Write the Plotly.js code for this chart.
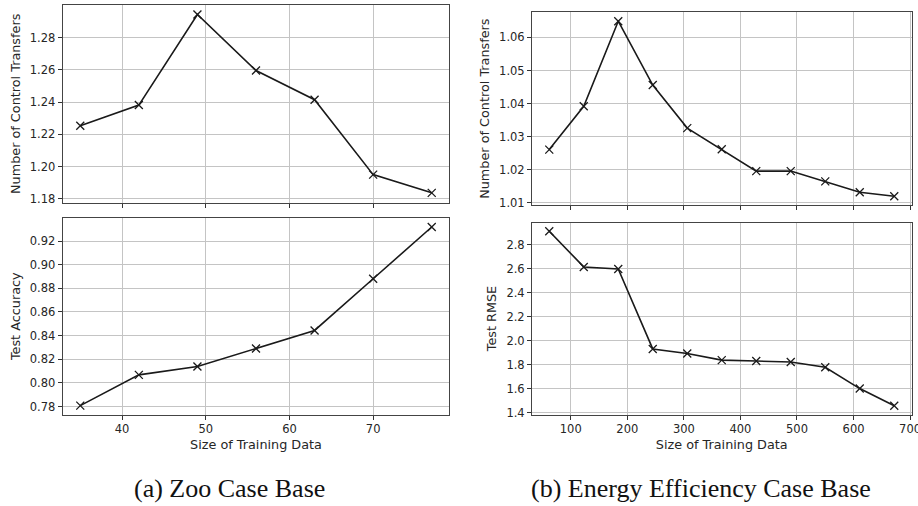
<!DOCTYPE html>
<html>
<head>
<meta charset="utf-8">
<script src="https://cdn.plot.ly/plotly-3.0.1.min.js"></script>
<style>html,body{margin:0;padding:0;background:#fff;}#chart{width:918px;height:506px;}</style>
</head>
<body>
<div id="chart"></div>
<script>
// Zoo case base
const zooSize = [35, 42, 49, 56, 63, 70, 77];
const zooTransfers = [1.2254, 1.2382, 1.2943, 1.2596, 1.2415, 1.1951, 1.1838];
const zooAccuracy = [0.7808, 0.8068, 0.8139, 0.8291, 0.8444, 0.8881, 0.9319];

// Energy efficiency case base
const energySize = [62, 123, 184, 245, 306, 367, 428, 489, 550, 611, 672];
const energyTransfers = [1.0261, 1.0392, 1.0649, 1.0456, 1.0326, 1.0262, 1.0196, 1.0196, 1.0165, 1.0132, 1.0120];
const energyRMSE = [2.910, 2.613, 2.596, 1.930, 1.892, 1.837, 1.829, 1.821, 1.777, 1.600, 1.457];

const zooXTicks = [40, 50, 60, 70];
const energyXTicks = [100, 200, 300, 400, 500, 600, 700];
const zooTransTicks = [1.18, 1.20, 1.22, 1.24, 1.26, 1.28];
const zooAccTicks = [0.78, 0.80, 0.82, 0.84, 0.86, 0.88, 0.90, 0.92];
const energyTransTicks = [1.01, 1.02, 1.03, 1.04, 1.05, 1.06];
const energyRMSETicks = [1.4, 1.6, 1.8, 2.0, 2.2, 2.4, 2.6, 2.8];

const xTitle = 'Size of Training Data';
const captions = ['(a) Zoo Case Base', '(b) Energy Efficiency Case Base'];

function series(x, y, xa, ya) {
  return {
    x: x, y: y, xaxis: xa, yaxis: ya, type: 'scatter', mode: 'lines+markers',
    line: {color: '#1a1a1a', width: 1.6},
    marker: {symbol: 'x-thin', size: 8, color: '#1a1a1a', line: {color: '#1a1a1a', width: 1.3}},
    hoverinfo: 'none', showlegend: false
  };
}

const data = [
  series(zooSize, zooTransfers, 'x', 'y'),
  series(zooSize, zooAccuracy, 'x2', 'y2'),
  series(energySize, energyTransfers, 'x3', 'y3'),
  series(energySize, energyRMSE, 'x4', 'y4')
];

const tickFont = {family: 'DejaVu Sans', size: 11.5, color: '#262626'};
const titleFont = {family: 'DejaVu Sans', size: 12.8, color: '#262626'};

function xax(domain, anchor, tv, range, labels, title) {
  return {
    domain: domain, anchor: anchor, range: range, tickvals: tv,
    showticklabels: labels, ticks: 'outside', ticklen: 4, tickwidth: 1, tickcolor: '#333',
    showline: true, mirror: true, linecolor: '#444', linewidth: 1,
    showgrid: true, gridcolor: '#c4c4c4', gridwidth: 1, zeroline: false,
    tickfont: tickFont, automargin: false, ticklabeloverflow: 'allow',
    title: title ? {text: title, font: titleFont, standoff: 4} : {text: ''}
  };
}
function yax(domain, anchor, tv, range, fmt, title, standoff) {
  return {
    domain: domain, anchor: anchor, range: range, tickvals: tv, tickformat: fmt,
    ticks: 'outside', ticklen: 4, tickwidth: 1, tickcolor: '#333',
    showline: true, mirror: true, linecolor: '#444', linewidth: 1,
    showgrid: true, gridcolor: '#c4c4c4', gridwidth: 1, zeroline: false,
    tickfont: tickFont, automargin: false, ticklabeloverflow: 'allow',
    title: {text: title, font: titleFont, standoff: standoff}
  };
}

const W = 918, H = 506;
const px = (a, b) => [a / W, b / W];
const py = (top, bottom) => [1 - bottom / H, 1 - top / H];

const layout = {
  width: W, height: H,
  margin: {l: 0, r: 0, t: 0, b: 0},
  paper_bgcolor: '#fff', plot_bgcolor: '#fff',
  showlegend: false,
  xaxis: xax(px(62.7, 449.3), 'y', zooXTicks, [32.9, 79.1], false, ''),
  yaxis: yax(py(5, 202.7), 'x', zooTransTicks, [1.1777, 1.3002], '.2f', 'Number of Control Transfers', 6),
  xaxis2: xax(px(62.7, 449.3), 'y2', zooXTicks, [32.9, 79.1], true, xTitle),
  yaxis2: yax(py(218, 414.5), 'x2', zooAccTicks, [0.7733, 0.9395], '.2f', 'Test Accuracy', 6),
  xaxis3: xax(px(532, 911.5), 'y3', energyXTicks, [31.5, 702.5], false, ''),
  yaxis3: yax(py(12.3, 205), 'x3', energyTransTicks, [1.00935, 1.0676], '.2f', 'Number of Control Transfers', 6),
  xaxis4: xax(px(532, 911.5), 'y4', energyXTicks, [31.5, 702.5], true, xTitle),
  yaxis4: yax(py(222.5, 414.5), 'x4', energyRMSETicks, [1.384, 2.983], '.1f', 'Test RMSE', 6),
  annotations: [
    {text: captions[0], xref: 'paper', yref: 'paper', x: 230 / W, y: 1 - 488 / H, xanchor: 'center', yanchor: 'middle',
     showarrow: false, font: {family: 'Liberation Serif', size: 26, color: '#111'}},
    {text: captions[1], xref: 'paper', yref: 'paper', x: 701 / W, y: 1 - 488 / H, xanchor: 'center', yanchor: 'middle',
     showarrow: false, font: {family: 'Liberation Serif', size: 26, color: '#111'}}
  ]
};

Plotly.newPlot('chart', data, layout, {staticPlot: true, displayModeBar: false});
</script>
</body>
</html>
